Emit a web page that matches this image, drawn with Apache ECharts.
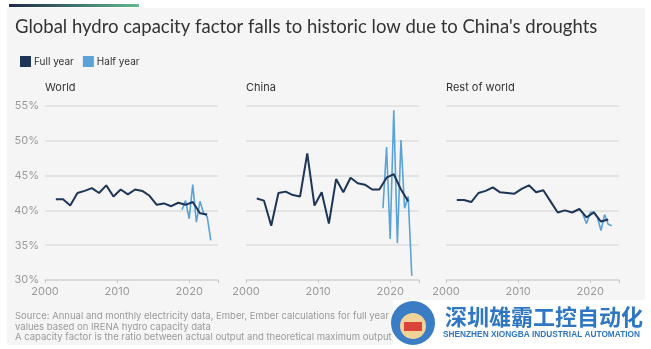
<!DOCTYPE html>
<html><head><meta charset="utf-8">
<script src="https://cdn.jsdelivr.net/npm/echarts@6/dist/echarts.min.js"></script>
<style>html,body{margin:0;padding:0;background:#fff}#c{width:651px;height:349px}</style>
</head><body><div id="c"></div>
<script>
const panels = ['World', 'China', 'Rest of world'];
const fullYears = [2001,2002,2003,2004,2005,2006,2007,2008,2009,2010,2011,2012,2013,2014,2015,2016,2017,2018,2019,2020,2021,2022];
const halfYears = ['2019 H1','2019 H2','2020 H1','2020 H2','2021 H1','2021 H2','2022 H1','2022 H2','2023 H1'];
const worldFull = [41.6,41.6,40.7,42.5,42.8,43.2,42.5,43.6,42.0,43.0,42.3,43.0,42.8,42.1,40.8,41.0,40.6,41.1,40.8,41.2,39.6,39.4];
const worldHalf = [40.1,41.4,38.8,43.7,38.3,41.3,39.6,39.1,35.7];
const chinaFull = [41.7,41.4,37.8,42.5,42.7,42.2,42.0,48.2,40.7,42.6,38.1,44.5,42.6,44.7,43.9,43.7,43.0,43.0,44.7,45.2,43.0,41.3];
const chinaHalf = [40.3,49.1,35.9,54.4,35.3,50.1,40.3,42.0,30.6];
const rowFull = [41.5,41.5,41.2,42.5,42.8,43.3,42.6,42.5,42.4,43.1,43.6,42.6,42.9,41.3,39.7,40.0,39.7,40.2,39.0,39.7,38.4,38.7];
const rowHalf = [39.4,38.1,39.7,39.8,39.0,37.1,39.4,38.0,37.8];
const xTicks = [2000, 2010, 2020];
const yTicks = [30, 35, 40, 45, 50, 55];

const fullColor = '#1d3557';
const halfColor = '#5aa3d8';

// position full-year values mid-year, half-year values at start of each half
function fullPts(vals){ return fullYears.map((y,i)=>[y+0.5, vals[i]]); }
function halfPts(vals){ return halfYears.map((h,i)=>{ const [y,p]=h.split(' '); return [Number(y)+(p==='H2'?0.5:0), vals[i]]; }); }

const lefts = [45, 246, 446];
const fulls = [worldFull, chinaFull, rowFull];
const halfs = [worldHalf, chinaHalf, rowHalf];

const grids = lefts.map(l => ({left:l, top:106, width:173, height:174}));
const xAxes = lefts.map((l,i) => ({
  type:'value', gridIndex:i, min:2000, max:2024, interval:10,
  axisLine:{show:true, lineStyle:{color:'#d6d6d6', width:1.5}},
  axisTick:{show:true, length:3, lineStyle:{color:'#c8c8c8'}},
  splitLine:{show:false},
  axisLabel:{color:'#9a9a9a', fontSize:11, fontFamily:'Inter', margin:6,
    formatter:v => xTicks.includes(v) ? String(v) : ''}
}));
const yAxes = lefts.map((l,i) => ({
  type:'value', gridIndex:i, min:30, max:55, interval:5,
  axisLine:{show:false}, axisTick:{show:false},
  splitLine:{show:true, lineStyle:{color:'#dcdcdc', width:1.5}},
  axisLabel:{show:i===0, color:'#9a9a9a', fontSize:11, fontFamily:'Inter', margin:6,
    formatter:v => yTicks.includes(v) ? v + '%' : ''}
}));

const series = [];
lefts.forEach((l,i) => {
  series.push({name:'Half year', type:'line', xAxisIndex:i, yAxisIndex:i, data:halfPts(halfs[i]),
    showSymbol:false, symbol:'none', lineStyle:{color:halfColor, width:1.6}, itemStyle:{color:halfColor}, z:2, animation:false});
  series.push({name:'Full year', type:'line', xAxisIndex:i, yAxisIndex:i, data:fullPts(fulls[i]),
    showSymbol:false, symbol:'none', lineStyle:{color:fullColor, width:2}, itemStyle:{color:fullColor}, z:3, animation:false});
});

const chart = echarts.init(document.getElementById('c'), null, {renderer:'canvas'});
chart.setOption({
  backgroundColor:'#ffffff',
  animation:false,
  grid:grids, xAxis:xAxes, yAxis:yAxes, series:series,
  legend:{left:15, top:51, itemWidth:11, itemHeight:11, itemGap:9, icon:'rect',
    data:['Full year','Half year'],
    textStyle:{color:'#333', fontSize:10, fontFamily:'Inter', padding:[0,0,0,-2]}},
  graphic:[
    {type:'rect', z:-10, shape:{x:7, y:8, width:638, height:337}, style:{fill:'#f5f5f5'}},
    {type:'rect', z:1, shape:{x:9, y:4, width:130, height:3},
      style:{fill:new echarts.graphic.LinearGradient(0,0,1,0,[{offset:0,color:'#1c2a4a'},{offset:1,color:'#63b98f'}])}},
    {type:'text', left:15, top:18, style:{text:"Global hydro capacity factor falls to historic low due to China's droughts",
      fill:'#333', font:'18.5px Lato'}},
    ...panels.map((p,i)=>({type:'text', left:lefts[i], top:82, style:{text:p, fill:'#333', font:'11px Inter'}})),
    {type:'text', left:15, top:311, style:{text:'Source: Annual and monthly electricity data, Ember, Ember calculations for full year\nvalues based on IRENA hydro capacity data\nA capacity factor is the ratio between actual output and theoretical maximum output',
      fill:'#9a9a9a', font:'9.5px Inter', lineHeight:10.5}},
    {type:'rect', z:10, shape:{x:393, y:300, width:258, height:49}, style:{fill:'#ffffff'}},
    {type:'circle', z:11, shape:{cx:413, cy:323, r:22}, style:{fill:'#3b7dc4'}},
    {type:'circle', z:12, shape:{cx:413, cy:326, r:13}, style:{fill:'#f1d39a'}},
    {type:'rect', z:13, shape:{x:404, y:322, width:18, height:9}, style:{fill:'#d9433a'}},
    {type:'text', z:11, left:445, top:306, style:{text:'深圳雄霸工控自动化', fill:'#2f77c2', font:'bold 22px "Noto Sans CJK SC"'}},
    {type:'text', z:11, left:443, top:331, style:{text:'SHENZHEN XIONGBA INDUSTRIAL AUTOMATION', fill:'#2f77c2', font:'bold 8.3px "Liberation Sans"'}}
  ]
});
</script></body></html>
